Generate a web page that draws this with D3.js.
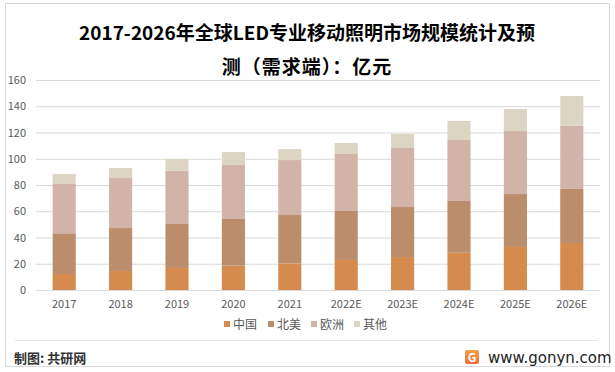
<!DOCTYPE html>
<html><head><meta charset="utf-8">
<script src="https://cdn.jsdelivr.net/npm/d3@7/dist/d3.min.js"></script>
<style>
html,body{margin:0;padding:0;background:#fff;}
svg{display:block;font-family:"Noto Sans CJK SC","Noto Sans",sans-serif;}
</style></head>
<body>
<svg id="c" width="615" height="372"></svg>
<script>
const categories = ["2017","2018","2019","2020","2021","2022E","2023E","2024E","2025E","2026E"];
const seriesNames = ["中国","北美","欧洲","其他"];
const china  = [12.2, 14.5, 16.8, 18.5, 20.3, 22.9, 25.1, 28.4, 32.8, 35.8];
const northAmerica = [31.0, 32.7, 33.5, 35.6, 36.8, 37.3, 38.1, 39.4, 40.3, 41.2];
const europe = [37.6, 38.1, 40.6, 41.1, 41.9, 43.4, 45.0, 46.5, 48.0, 48.0];
const others = [7.6, 7.7, 8.9, 9.9, 8.4, 8.4, 10.7, 14.5, 16.8, 22.8];
const yTicks = [0,20,40,60,80,100,120,140,160];
const colors = ["#D48B4D","#BB8D6B","#D1B3A8","#DDD5C4"];

const svg = d3.select("#c");
// outer border
svg.append("rect").attr("x",5.5).attr("y",3.5).attr("width",604).attr("height",363)
  .attr("fill","#fff").attr("stroke","#d9d9d9").attr("stroke-width",1);

// title
const title = svg.append("text").attr("text-anchor","middle").attr("font-weight","bold")
  .attr("font-size",19).attr("fill","#000");
title.append("tspan").attr("x",307).attr("y",40).text("2017-2026年全球LED专业移动照明市场规模统计及预");
title.append("tspan").attr("x",307).attr("y",74).attr("letter-spacing",1).text("测（需求端）：亿元");

const x = d3.scaleBand().domain(categories).range([36,600]).paddingInner(0.59).paddingOuter(0.295);
const y = d3.scaleLinear().domain([0,160]).range([290,80]);

// gridlines
svg.append("g").selectAll("line").data(yTicks).join("line")
  .attr("x1",36).attr("x2",600).attr("y1",d=>y(d)+0.5).attr("y2",d=>y(d)+0.5)
  .attr("stroke","#d9d9d9").attr("stroke-width",1);

// y axis
const yAxis = svg.append("g").attr("transform","translate(26,0)")
  .call(d3.axisLeft(y).tickValues(yTicks).tickSize(0).tickPadding(0));
yAxis.select(".domain").remove();
yAxis.selectAll("text").attr("font-size",11).attr("fill","#595959")
  .attr("font-family","'Noto Sans CJK SC',sans-serif");

// stacked data
const rows = categories.map((c,i)=>({cat:c, "中国":china[i], "北美":northAmerica[i], "欧洲":europe[i], "其他":others[i]}));
const stack = d3.stack().keys(seriesNames)(rows);
svg.append("g").selectAll("g").data(stack).join("g").attr("fill",(d,i)=>colors[i])
  .selectAll("rect").data(d=>d).join("rect")
  .attr("x",d=>x(d.data.cat)).attr("width",x.bandwidth())
  .attr("y",d=>y(d[1])).attr("height",d=>y(d[0])-y(d[1]));

// x axis
const xAxis = svg.append("g").attr("transform","translate(0,290)")
  .call(d3.axisBottom(x).tickSize(0).tickPadding(10));
xAxis.select(".domain").attr("stroke","#d9d9d9");
xAxis.selectAll("text").attr("font-size",11).attr("fill","#595959")
  .attr("font-family","'Noto Sans CJK SC',sans-serif");

// legend
const legendX = [224, 268, 311, 354];
const lg = svg.append("g").selectAll("g").data(seriesNames).join("g")
  .attr("transform",(d,i)=>`translate(${legendX[i]},324)`);
lg.append("rect").attr("x",0).attr("y",-3).attr("width",6).attr("height",6).attr("fill",(d,i)=>colors[i]);
lg.append("text").attr("x",9).attr("y",4.5).attr("font-size",12).attr("fill","#595959").text(d=>d);

// separator
svg.append("line").attr("x1",15).attr("x2",598).attr("y1",340.5).attr("y2",340.5)
  .attr("stroke","#e6e6e6").attr("stroke-width",1);

// footer
svg.append("text").attr("x",14).attr("y",363).attr("font-size",13).attr("font-weight","bold")
  .attr("fill","#333").text("制图: 共研网");
const defs = svg.append("defs");
const grad = defs.append("linearGradient").attr("id","lg1").attr("x1","0").attr("y1","0").attr("x2","0").attr("y2","1");
grad.append("stop").attr("offset","0%").attr("stop-color","#F7A14A");
grad.append("stop").attr("offset","100%").attr("stop-color","#EE6A3A");
svg.append("rect").attr("x",465).attr("y",350).attr("width",14).attr("height",14).attr("rx",2).attr("fill","url(#lg1)");
svg.append("text").attr("x",472).attr("y",361.5).attr("text-anchor","middle").attr("font-size",12)
  .attr("font-weight","bold").attr("fill","#fff").text("G");
svg.append("text").attr("x",488).attr("y",363).attr("font-size",15).attr("fill","#222")
  .attr("font-family","'DejaVu Sans','Noto Sans',sans-serif").text("www.gonyn.com");
</script>
</body></html>
